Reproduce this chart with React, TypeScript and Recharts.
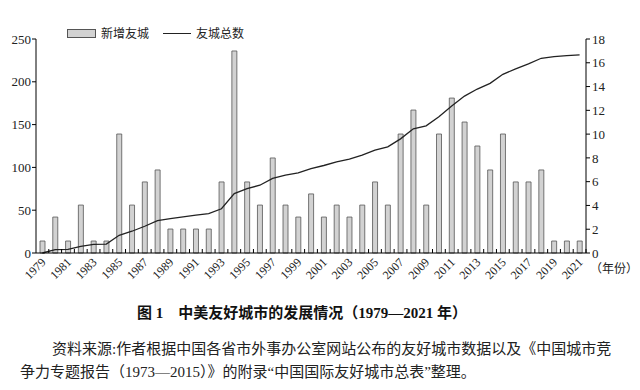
import {
  ComposedChart,
  Bar,
  Line,
  XAxis,
  YAxis,
  Legend,
} from "recharts";

const years = [
  "1979", "1980", "1981", "1982", "1983", "1984", "1985", "1986", "1987", "1988",
  "1989", "1990", "1991", "1992", "1993", "1994", "1995", "1996", "1997", "1998",
  "1999", "2000", "2001", "2002", "2003", "2004", "2005", "2006", "2007", "2008",
  "2009", "2010", "2011", "2012", "2013", "2014", "2015", "2016", "2017", "2018",
  "2019", "2020", "2021",
];

// 新增友城 (left axis)
const newCities = [
  14, 42, 14, 56, 14, 14, 139, 56, 83, 97,
  28, 28, 28, 28, 83, 236, 83, 56, 111, 56,
  42, 69, 42, 56, 42, 56, 83, 56, 139, 167,
  56, 139, 181, 153, 125, 97, 139, 83, 83, 97,
  14, 14, 14,
];

// 友城总数 (right axis)
const totalCities = [
  0, 0.28, 0.3, 0.56, 0.73, 0.75, 1.49, 1.83, 2.25, 2.73,
  2.9, 3.03, 3.18, 3.32, 3.72, 5.0, 5.42, 5.7, 6.27, 6.55,
  6.74, 7.1, 7.36, 7.67, 7.9, 8.23, 8.65, 8.93, 9.6, 10.45,
  10.7, 11.46, 12.36, 13.2, 13.79, 14.27, 15.03, 15.48, 15.9, 16.38,
  16.52, 16.6, 16.66,
];

const leftTicks = [0, 50, 100, 150, 200, 250];
const rightTicks = [0, 2, 4, 6, 8, 10, 12, 14, 16, 18];

const data = years.map((year, i) => ({
  year,
  added: newCities[i],
  total: totalCities[i],
}));

const FONT = "'Liberation Serif', 'Noto Sans CJK SC', serif";
const CJK = "'Liberation Serif', 'Noto Sans CJK SC', sans-serif";

function YearTick(props: any) {
  const { x, y, payload, index } = props;
  const half = payload.offset || 6.4;
  return (
    <g>
      <line x1={x + half} x2={x + half} y1={y} y2={y - 4} stroke="#000" strokeWidth={1} />
      {index % 2 === 0 && (
        <text
          x={x + 4}
          y={y + 10}
          textAnchor="end"
          fontSize={12}
          fontFamily={FONT}
          fill="#222"
          transform={`rotate(-45, ${x + 4}, ${y + 10})`}
        >
          {payload.value}
        </text>
      )}
    </g>
  );
}

function ChartLegend() {
  return (
    <div style={{ display: "flex", alignItems: "center", fontFamily: CJK, fontSize: 12, color: "#222" }}>
      <span style={{ width: 27, height: 7, background: "#d2d2d2", border: "1px solid #555", marginRight: 5 }} />
      <span>新增友城</span>
      <span style={{ width: 28, height: 0, borderTop: "1.3px solid #222", marginLeft: 14, marginRight: 5 }} />
      <span>友城总数</span>
    </div>
  );
}

export default function App() {
  return (
    <div style={{ position: "absolute", left: 0, top: 0, width: 640, height: 390, background: "#fff" }}>
      <ComposedChart
        width={640}
        height={290}
        data={data}
        margin={{ top: 39, right: 14, bottom: 0, left: 6 }}
      >
        <XAxis
          dataKey="year"
          interval={0}
          tickSize={0}
          tickMargin={0}
          height={37}
          stroke="#000"
          tick={<YearTick />}
        />
        <YAxis
          yAxisId="left"
          domain={[0, 250]}
          ticks={leftTicks}
          width={30}
          tickSize={4}
          tickMargin={1}
          stroke="#000"
          tick={{ fontSize: 13, fontFamily: FONT, fill: "#222" }}
        />
        <YAxis
          yAxisId="right"
          orientation="right"
          domain={[0, 18]}
          ticks={rightTicks}
          width={40}
          tickSize={4}
          tickMargin={2}
          stroke="#000"
          tick={{ fontSize: 13, fontFamily: FONT, fill: "#222", textAnchor: "start" }}
        />
        <Legend
          layout="horizontal"
          verticalAlign="middle"
          align="center"
          wrapperStyle={{ top: 24, left: 67, width: 220 }}
          content={() => <ChartLegend />}
        />
        <Bar
          yAxisId="left"
          dataKey="added"
          name="新增友城"
          barSize={5}
          fill="#d2d2d2"
          stroke="#555"
          strokeWidth={0.8}
          isAnimationActive={false}
        />
        <Line
          yAxisId="right"
          dataKey="total"
          name="友城总数"
          type="linear"
          stroke="#222"
          strokeWidth={1.3}
          dot={false}
          isAnimationActive={false}
        />
      </ComposedChart>
      <div style={{ position: "absolute", left: 590, top: 259, fontFamily: CJK, fontSize: 12, color: "#222" }}>
        （年份）
      </div>
      <div
        style={{
          position: "absolute",
          left: 137,
          top: 301,
          fontFamily: CJK,
          fontSize: 15,
          fontWeight: "bold",
          color: "#111",
          whiteSpace: "nowrap",
        }}
      >
        图 1　中美友好城市的发展情况（1979—2021 年）
      </div>
      <div
        style={{
          position: "absolute",
          left: 52,
          top: 337,
          fontFamily: CJK,
          fontSize: 15,
          color: "#222",
          whiteSpace: "nowrap",
        }}
      >
        资料来源:作者根据中国各省市外事办公室网站公布的友好城市数据以及《中国城市竞
      </div>
      <div
        style={{
          position: "absolute",
          left: 20,
          top: 360,
          fontFamily: CJK,
          fontSize: 15,
          color: "#222",
          whiteSpace: "nowrap",
        }}
      >
        争力专题报告（1973—2015）》的附录“中国国际友好城市总表”整理。
      </div>
    </div>
  );
}
